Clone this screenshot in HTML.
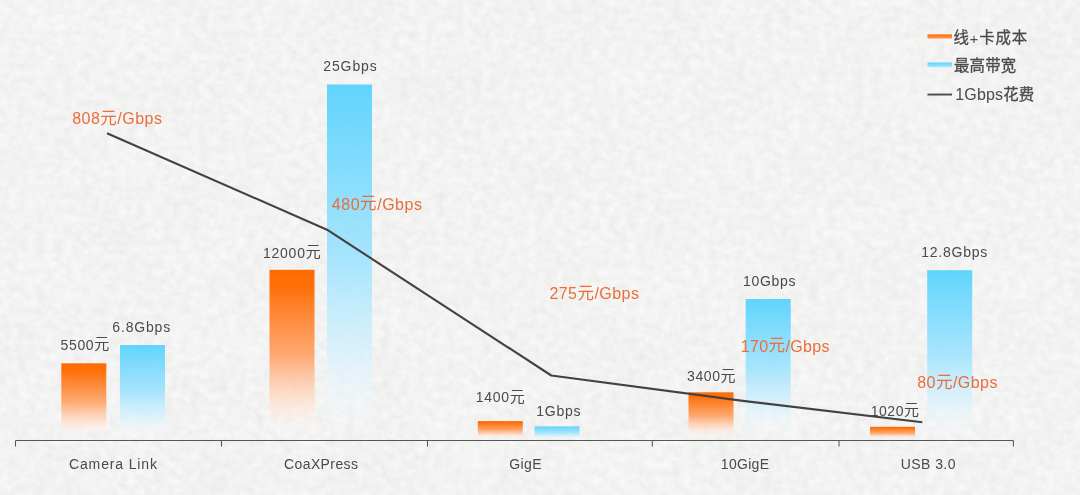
<!DOCTYPE html>
<html lang="zh"><head><meta charset="utf-8"><title>Interface cost vs bandwidth</title>
<style>
html,body{margin:0;padding:0;background:#f2f2f2;}
body{width:1080px;height:495px;overflow:hidden;font-family:"Liberation Sans",sans-serif;}
svg{display:block;font-family:"Liberation Sans","Noto Sans CJK SC",sans-serif;}
</style></head><body>
<svg width="1080" height="495" viewBox="0 0 1080 495">
<defs>
<linearGradient id="go" x1="0" y1="0" x2="0" y2="1"><stop offset="0" stop-color="#ff6a00"/><stop offset="0.1" stop-color="#ff6f0a"/><stop offset="0.5" stop-color="#ff9e5e" stop-opacity="0.88"/><stop offset="0.78" stop-color="#ffdecb" stop-opacity="0.68"/><stop offset="1" stop-color="#ffffff" stop-opacity="0"/></linearGradient>
<linearGradient id="gb" x1="0" y1="0" x2="0" y2="1"><stop offset="0" stop-color="#60d4fd"/><stop offset="0.5" stop-color="#a0e3fe" stop-opacity="0.9"/><stop offset="0.78" stop-color="#d8f2fd" stop-opacity="0.72"/><stop offset="1" stop-color="#ffffff" stop-opacity="0"/></linearGradient>
<linearGradient id="lo" x1="0" y1="0" x2="0" y2="1"><stop offset="0" stop-color="#ff6a00"/><stop offset="1" stop-color="#ff9d5c"/></linearGradient>
<linearGradient id="lb" x1="0" y1="0" x2="0" y2="1"><stop offset="0" stop-color="#5cd4ff"/><stop offset="1" stop-color="#a5e6ff"/></linearGradient>
<filter id="paper" x="0" y="0" width="100%" height="100%" color-interpolation-filters="sRGB"><feTurbulence type="fractalNoise" baseFrequency="0.11 0.13" numOctaves="4" seed="3" result="f"/><feTurbulence type="fractalNoise" baseFrequency="0.012 0.016" numOctaves="2" seed="8" result="c"/><feComposite in="f" in2="c" operator="arithmetic" k1="0" k2="0.8" k3="0.2" k4="0" result="m"/><feColorMatrix in="m" type="matrix" values="0.085 0 0 0 0.908  0.085 0 0 0 0.908  0.085 0 0 0 0.906  0 0 0 0 1"/></filter>
</defs>
<rect width="1080" height="495" fill="#f3f3f3"/>
<rect width="1080" height="495" filter="url(#paper)"/>
<g id="bars"><rect x="61.3" y="363.3" width="45" height="76.00" fill="url(#go)"/><rect x="120" y="345" width="45" height="94.30" fill="url(#gb)"/><rect x="269.5" y="269.8" width="45" height="169.50" fill="url(#go)"/><rect x="327" y="84.5" width="45" height="354.80" fill="url(#gb)"/><rect x="477.8" y="421.1" width="45" height="18.20" fill="url(#go)"/><rect x="534.5" y="426.4" width="45" height="12.90" fill="url(#gb)"/><rect x="688.5" y="392.3" width="45" height="47.00" fill="url(#go)"/><rect x="745.7" y="299" width="45" height="140.30" fill="url(#gb)"/><rect x="870" y="426.8" width="45" height="12.50" fill="url(#go)"/><rect x="927.2" y="270.2" width="45" height="169.10" fill="url(#gb)"/></g>
<path d="M15.5 440.5H1013.4M15.5 440.5v6M221.5 440.5v6M427.5 440.5v6M652.3 440.5v6M839 440.5v6M1013.4 440.5v6" stroke="#565656" stroke-width="1.05" fill="none"/>
<polyline points="107,133.3 327,229.7 551.3,375.5 743,400.9 922.3,422.2" fill="none" stroke="#46413f" stroke-width="2.1" stroke-linejoin="round"/>
<g id="legend"><rect x="927.5" y="34.4" width="24.5" height="4.2" fill="url(#lo)"/><rect x="927.5" y="62.5" width="24.5" height="4.6" fill="url(#lb)"/><rect x="927.5" y="93.6" width="24.5" height="1.9" fill="#4f4a48"/></g>
<g id="labels" style="opacity:0.999">
<g aria-label="Camera Link"><text x="69.00" y="469.00" font-size="14" letter-spacing="0.863" fill="#4a4a4a">Camera Link</text></g>
<g aria-label="CoaXPress"><text x="284.00" y="469.00" font-size="14" letter-spacing="0.399" fill="#4a4a4a">CoaXPress</text></g>
<g aria-label="GigE"><text x="509.20" y="469.00" font-size="14" letter-spacing="0.425" fill="#4a4a4a">GigE</text></g>
<g aria-label="10GigE"><text x="720.80" y="469.00" font-size="14" letter-spacing="0.301" fill="#4a4a4a">10GigE</text></g>
<g aria-label="USB 3.0"><text x="900.70" y="469.00" font-size="14" letter-spacing="0.444" fill="#4a4a4a">USB 3.0</text></g>
<g aria-label="5500元"><text x="60.60" y="349.60" font-size="14" letter-spacing="0.639" fill="#4a4a4a">5500</text><text x="94.30" y="349.10" font-size="15" fill="#4a4a4a">元</text></g>
<g aria-label="6.8Gbps"><text x="112.30" y="331.50" font-size="14" letter-spacing="0.829" fill="#4a4a4a">6.8Gbps</text></g>
<g aria-label="12000元"><text x="263.00" y="257.60" font-size="14" letter-spacing="0.754" fill="#4a4a4a">12000</text><text x="305.70" y="257.10" font-size="15" fill="#4a4a4a">元</text></g>
<g aria-label="25Gbps"><text x="323.20" y="70.70" font-size="14" letter-spacing="0.913" fill="#4a4a4a">25Gbps</text></g>
<g aria-label="1400元"><text x="475.70" y="402.40" font-size="14" letter-spacing="0.714" fill="#4a4a4a">1400</text><text x="509.70" y="401.90" font-size="15" fill="#4a4a4a">元</text></g>
<g aria-label="1Gbps"><text x="536.30" y="415.60" font-size="14" letter-spacing="0.713" fill="#4a4a4a">1Gbps</text></g>
<g aria-label="3400元"><text x="687.00" y="381.40" font-size="14" letter-spacing="0.589" fill="#4a4a4a">3400</text><text x="720.50" y="380.90" font-size="15" fill="#4a4a4a">元</text></g>
<g aria-label="10Gbps"><text x="743.00" y="286.40" font-size="14" letter-spacing="0.693" fill="#4a4a4a">10Gbps</text></g>
<g aria-label="1020元"><text x="870.70" y="415.60" font-size="14" letter-spacing="0.539" fill="#4a4a4a">1020</text><text x="904.00" y="415.10" font-size="15" fill="#4a4a4a">元</text></g>
<g aria-label="12.8Gbps"><text x="921.30" y="256.70" font-size="14" letter-spacing="0.741" fill="#4a4a4a">12.8Gbps</text></g>
<g aria-label="808元/Gbps"><text x="72.20" y="124.30" font-size="16.0" letter-spacing="0.490" fill="#e96e3a">808</text><text x="100.36" y="123.80" font-size="16.5" fill="#e96e3a">元</text><text x="117.35" y="124.30" font-size="16.0" letter-spacing="0.490" fill="#e96e3a">/Gbps</text></g>
<g aria-label="480元/Gbps"><text x="331.80" y="209.90" font-size="16.0" letter-spacing="0.540" fill="#e96e3a">480</text><text x="360.11" y="209.40" font-size="16.5" fill="#e96e3a">元</text><text x="377.15" y="209.90" font-size="16.0" letter-spacing="0.540" fill="#e96e3a">/Gbps</text></g>
<g aria-label="275元/Gbps"><text x="549.40" y="299.00" font-size="16.0" letter-spacing="0.465" fill="#e96e3a">275</text><text x="577.49" y="298.50" font-size="16.5" fill="#e96e3a">元</text><text x="594.45" y="299.00" font-size="16.0" letter-spacing="0.465" fill="#e96e3a">/Gbps</text></g>
<g aria-label="170元/Gbps"><text x="740.70" y="351.50" font-size="16.0" letter-spacing="0.377" fill="#e96e3a">170</text><text x="768.53" y="351.00" font-size="16.5" fill="#e96e3a">元</text><text x="785.40" y="351.50" font-size="16.0" letter-spacing="0.377" fill="#e96e3a">/Gbps</text></g>
<g aria-label="80元/Gbps"><text x="917.20" y="388.20" font-size="16.0" letter-spacing="0.474" fill="#e96e3a">80</text><text x="935.94" y="387.70" font-size="16.5" fill="#e96e3a">元</text><text x="952.92" y="388.20" font-size="16.0" letter-spacing="0.474" fill="#e96e3a">/Gbps</text></g>
<g aria-label="线+卡成本"><text x="953.50" y="43.30" font-size="15.4" fill="#4a4a4a" stroke="#4a4a4a" stroke-width="0.3">线</text><text x="969.81" y="43.60" font-size="14.5" letter-spacing="0.908" fill="#4a4a4a">+</text><text x="979.18" y="43.30" font-size="15.4" letter-spacing="0.91" fill="#4a4a4a" stroke="#4a4a4a" stroke-width="0.3">卡成本</text></g>
<g aria-label="最高带宽"><text x="954.00" y="71.00" font-size="15.4" letter-spacing="0.23" fill="#4a4a4a" stroke="#4a4a4a" stroke-width="0.3">最高带宽</text></g>
<g aria-label="1Gbps花费"><text x="955.30" y="100.20" font-size="16" letter-spacing="0.160" fill="#4a4a4a">1Gbps</text><text x="1003.24" y="99.90" font-size="15.4" letter-spacing="0.16" fill="#4a4a4a" stroke="#4a4a4a" stroke-width="0.3">花费</text></g>
</g>
</svg>
</body></html>
